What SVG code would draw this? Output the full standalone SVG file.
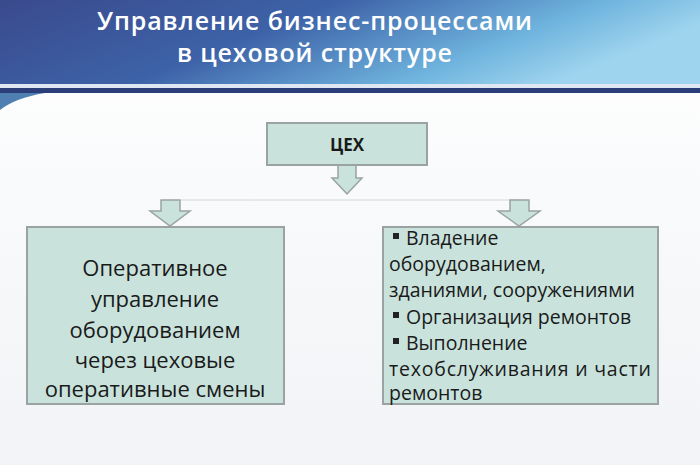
<svg xmlns="http://www.w3.org/2000/svg" width="700" height="465" viewBox="0 0 700 465">
<defs>
<linearGradient id="hdr" x1="0" y1="0" x2="1" y2="0.3">
<stop offset="0" stop-color="#3a4a8c"/><stop offset="0.45" stop-color="#3d62a8"/><stop offset="0.8" stop-color="#6fb4de"/><stop offset="1" stop-color="#9fd4ee"/>
</linearGradient>
<linearGradient id="bg" x1="0" y1="0" x2="0" y2="1"><stop offset="0" stop-color="#ffffff"/><stop offset="1" stop-color="#f1f3f6"/></linearGradient>
<style>
.box{fill:#c9e3dc;stroke:#9aa3a1;stroke-width:2}
.arr{fill:#c9e3dc;stroke:#9aa3a1;stroke-width:1.5}
.t{font-family:"Open Sans","Noto Sans","Liberation Sans",sans-serif;fill:#1a1a1a}
.h{font-family:"Open Sans","Noto Sans","Liberation Sans",sans-serif;fill:#ffffff;font-weight:600;font-size:25px}
</style>
</defs>
<rect width="700" height="465" fill="url(#bg)"/>
<rect width="700" height="84" fill="url(#hdr)"/>
<rect y="84" width="700" height="4" fill="#dfe8f2"/>
<rect y="88" width="700" height="5" fill="#2c3e7a"/>
<path d="M0 93 L45 93 Q15 98 0 110 Z" fill="#4f7fb0"/>
<text class="h" x="97" y="30" textLength="435">Управление бизнес-процессами</text>
<text class="h" x="177" y="62" textLength="275">в цеховой структуре</text>
<g id="connectors">
<line x1="181" y1="200" x2="520" y2="200" stroke="#dde3e3" stroke-width="1.5"/>
<path class="arr" d="M338 165 H356 V178 H362 L347 194 L332 178 H338 Z"/>
<path class="arr" d="M161 200 H180 V211 H190 L170 226 L150 211 H161 Z"/>
<path class="arr" d="M510 200 H529 V211 H540 L519 226 L498 211 H510 Z"/>
</g>
<g id="n-tseh"><rect class="box" x="267" y="123" width="160" height="42"/>
<text class="t" x="347" y="151" text-anchor="middle" font-size="17" font-weight="bold">ЦЕХ</text></g>
<g id="n-left"><rect class="box" x="27" y="227" width="257" height="177"/>
<g class="t" font-size="22" text-anchor="middle">
<text x="155" y="276">Оперативное</text>
<text x="155" y="307">управление</text>
<text x="155" y="338">оборудованием</text>
<text x="155" y="368">через цеховые</text>
<text x="155" y="397">оперативные смены</text></g></g>
<g id="n-right"><rect class="box" x="383" y="227" width="275" height="177"/>
<g class="t" font-size="19.5">
<rect x="393" y="233" width="6" height="6" fill="#222"/>
<text x="406" y="245">Владение</text>
<text x="389" y="271">оборудованием,</text>
<text x="389" y="297">зданиями, сооружениями</text>
<rect x="393" y="312" width="6" height="6" fill="#222"/>
<text x="406" y="324">Организация ремонтов</text>
<rect x="393" y="338" width="6" height="6" fill="#222"/>
<text x="406" y="350">Выполнение</text>
<text x="389" y="376" textLength="262">техобслуживания и части</text>
<text x="389" y="400">ремонтов</text></g></g>
</svg>
